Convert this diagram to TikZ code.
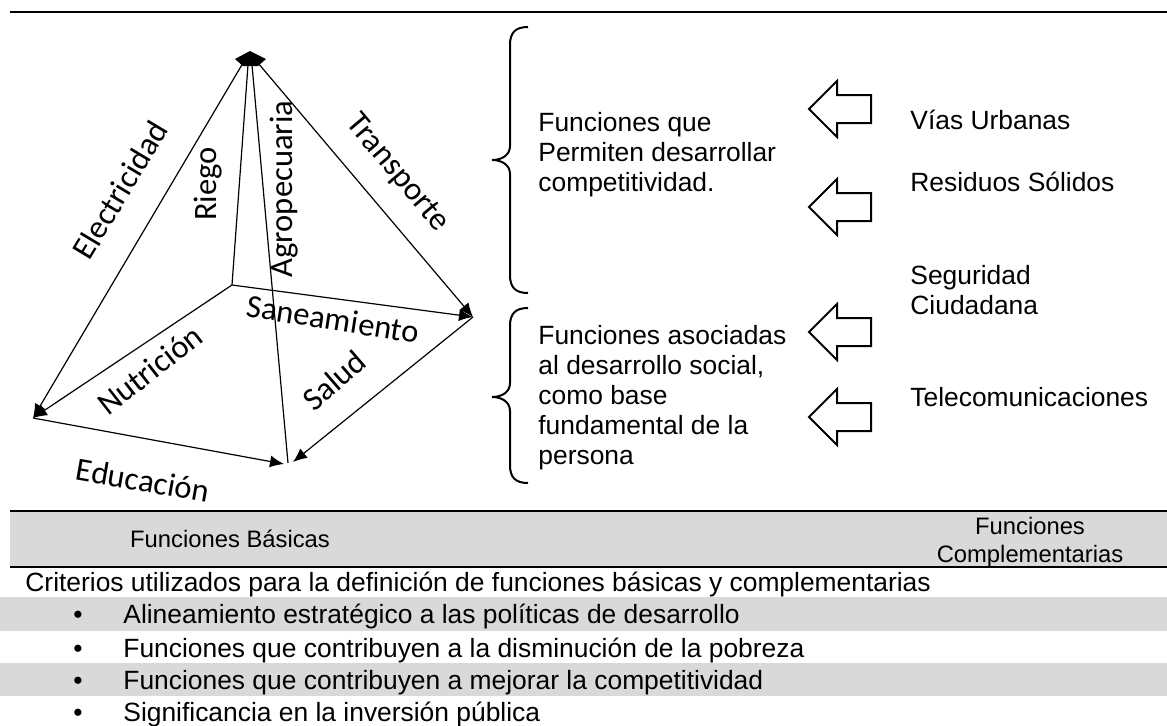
\documentclass[tikz,border=0pt]{standalone}
\usepackage{fontspec}
\setmainfont{Liberation Sans}
\newfontfamily\calibrifont{Carlito}
\usetikzlibrary{arrows.meta}
\definecolor{bandgray}{HTML}{D9D9D9}
\tikzset{
  edge/.style={line width=0.6pt},
  tipped/.style={edge,-{Latex[length=7pt,width=6pt]}},
  plabel/.style={font=\calibrifont\fontsize{16.3}{19}\selectfont, inner sep=0pt},
  txt/.style={font=\fontsize{13.2}{15}\selectfont, inner sep=0pt},
  hdr/.style={font=\fontsize{11.9}{14}\selectfont, inner sep=0pt},
  blockarrow/.style={draw, line width=1pt, line join=miter},
  bracepath/.style={draw, line width=1pt},
  rulestyle/.style={line width=1pt},
  band/.style={fill=bandgray, draw=none}
}
\begin{document}
\begin{tikzpicture}[x=0.5pt,y=-0.5pt]
\useasboundingbox (0,0) rectangle (1167,725);

% top rule
\coordinate (topL) at (10,12);
\coordinate (topR) at (1167,12);
\draw[rulestyle] (topL) -- (topR);

% ---------- pyramid ----------
\coordinate (aL) at (243,63);
\coordinate (aB) at (248,65);
\coordinate (aF) at (252,65);
\coordinate (aR) at (258,63);
\coordinate (L) at (33,418);
\coordinate (B) at (232,285);
\coordinate (R) at (473,317);
\coordinate (F) at (288,463);
\coordinate (F1) at (284,464);
\coordinate (F2) at (293,462);

\fill (235,59) -- (250,51) -- (266,59) -- (258,66) -- (243,66) -- cycle;

\draw[tipped] (aL) -- (L);
\draw[edge] (aB) -- (B);
\draw[edge] (aF) -- (F);
\draw[tipped] (aR) -- (R);
\draw[tipped] (B) -- (R);
\draw[tipped] (B) -- (L);
\draw[tipped] (R) -- (F2);
\draw[tipped] (L) -- (F1);

\node[plabel, rotate=59] (elec) at (120,190) {Electricidad};
\node[plabel, rotate=90] (riego) at (208,184) {Riego};
\node[plabel, rotate=90] (agro) at (284,189) {Agropecuaria};
\node[plabel, rotate=-50] (trans) at (397,173) {Transporte};
\node[plabel, rotate=-9] (san) at (333,319) {Saneamiento};
\node[plabel, rotate=38] (nutri) at (150,370) {Nutrición};
\node[plabel, rotate=41] (salud) at (334,380) {Salud};
\node[plabel, rotate=-10] (edu) at (143,480) {Educación};

% ---------- braces ----------
\coordinate (br1top) at (528,27);
\coordinate (br1tip) at (492,160);
\coordinate (br1bot) at (528,293);
\draw[bracepath] (br1top) .. controls (515,27) and (510,33) .. (510,45)
  -- (510,146) .. controls (510,155) and (502,160) .. (br1tip)
  .. controls (502,160) and (510,165) .. (510,174)
  -- (510,275) .. controls (510,287) and (515,293) .. (br1bot);

\coordinate (br2top) at (528,308);
\coordinate (br2tip) at (492,397);
\coordinate (br2bot) at (528,483);
\draw[bracepath] (br2top) .. controls (515,308) and (510,314) .. (510,326)
  -- (510,383) .. controls (510,392) and (502,397) .. (br2tip)
  .. controls (502,397) and (510,402) .. (510,411)
  -- (510,465) .. controls (510,477) and (515,483) .. (br2bot);

\node[txt, align=left, anchor=north west] (comp) at (538,112)
  {Funciones que\\Permiten desarrollar\\competitividad.};
\node[txt, align=left, anchor=north west] (soc) at (538,325)
  {Funciones asociadas\\al desarrollo social,\\como base\\fundamental de la\\persona};

% ---------- block arrows ----------
\foreach \i/\yy in {1/109, 2/207, 3/332, 4/417}{
  \coordinate (ar\i) at (809,\yy);
  \draw[blockarrow] (ar\i) -- ++(28,-28) -- ++(0,14) -- ++(34,0) -- ++(0,28)
    -- ++(-34,0) -- ++(0,14) -- cycle;
}

\node[txt, anchor=west] (vias) at (910,120) {Vías Urbanas};
\node[txt, anchor=west] (resid) at (910,182) {Residuos Sólidos};
\node[txt, align=left, anchor=north west] (segur) at (910,265) {Seguridad\\Ciudadana};
\node[txt, anchor=west] (tele) at (910,397) {Telecomunicaciones};

% ---------- bottom table ----------
\fill[band] (10,511) rectangle (1167,567);
\fill[band] (0,597) rectangle (1167,631);
\fill[band] (0,663) rectangle (1167,696);
\coordinate (r1L) at (10,511);
\coordinate (r1R) at (1167,511);
\coordinate (r2L) at (10,567);
\coordinate (r2R) at (1167,567);
\draw[rulestyle] (r1L) -- (r1R);
\draw[rulestyle] (r2L) -- (r2R);

\node[hdr] (fb) at (230,539) {Funciones Básicas};
\node[hdr, align=center, anchor=north] (fc) at (1030,517) {Funciones\\Complementarias};

\node[txt, anchor=west] (crit) at (25,585)
  {Criterios utilizados para la definición de funciones básicas y complementarias};

\foreach \i/\yy/\t in {1/617/{Alineamiento estratégico a las políticas de desarrollo},
                       2/651/{Funciones que contribuyen a la disminución de la pobreza},
                       3/683/{Funciones que contribuyen a mejorar la competitividad},
                       4/715/{Significancia en la inversión pública}}{
  \node[txt] (bul\i) at (78,\yy) {•};
  \node[txt, anchor=west] (item\i) at (123,\yy) {\t};
}
\end{tikzpicture}
\end{document}
